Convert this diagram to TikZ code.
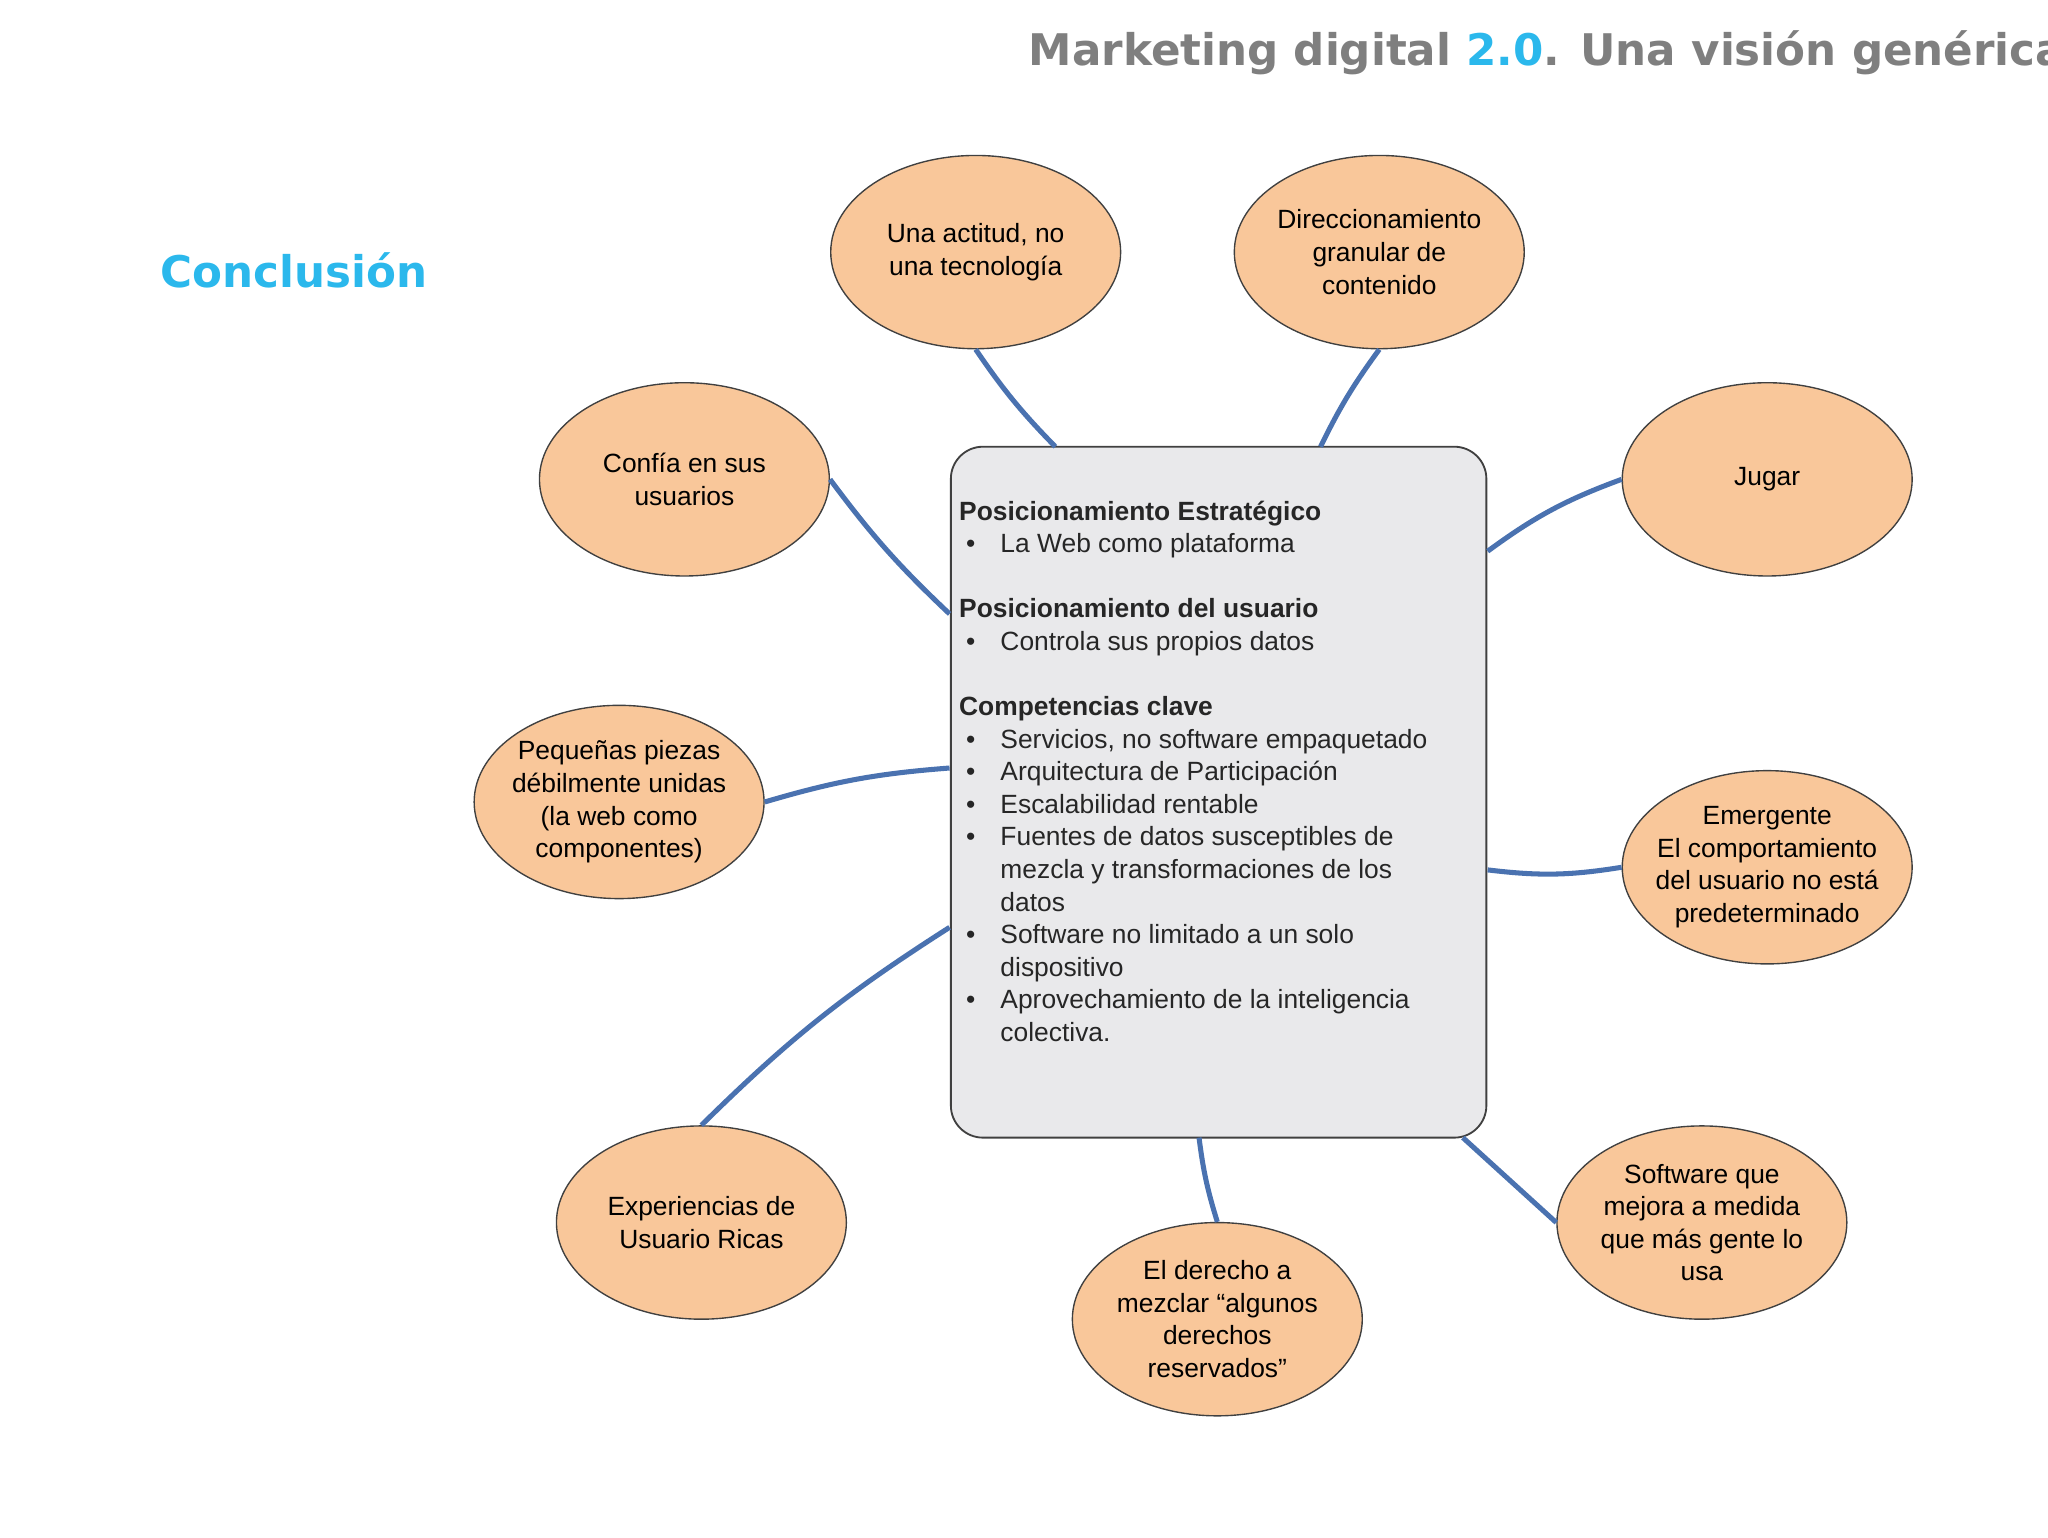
\documentclass[tikz,border=0pt]{standalone}
\usepackage{fontspec}
\setmainfont{Liberation Sans}
\newfontfamily\titlefont{DejaVu Sans}
\usetikzlibrary{shapes.geometric}
\definecolor{peach}{HTML}{F9C79A}
\definecolor{edge}{HTML}{4A72B0}
\definecolor{boxfill}{HTML}{E9E9EB}
\definecolor{cyantitle}{HTML}{2BB8EC}
\definecolor{graytitle}{HTML}{7F7F7F}
\newcommand{\bl}[1]{\hspace*{3pt}\makebox[15pt][l]{\textbullet}#1}
\newcommand{\cl}[1]{\hspace*{18pt}#1}
\begin{document}
\begin{tikzpicture}[x=0.02cm,y=-0.02cm,
  bubble/.style={ellipse,draw=black!75,line width=0.6pt,fill=peach,minimum width=4.44cm,minimum height=2.96cm,align=center,font=\fontsize{11.5}{14.2}\selectfont,inner xsep=-12pt,inner ysep=0pt},
  link/.style={edge,line width=2.2pt}]
\useasboundingbox (0,0) rectangle (1568,1177);
\node[anchor=base east,font=\titlefont\bfseries\fontsize{19}{22}\selectfont,text=graytitle] (title) at (1600,50) {Marketing digital \textcolor{cyantitle}{2.0}. Una visión genérica.};
\node[anchor=base west,font=\titlefont\bfseries\fontsize{19}{22}\selectfont,text=cyantitle] (concl) at (117,220) {Conclusión};
\draw[draw=black!75,fill=boxfill,line width=0.8pt,rounded corners=14pt] (728,342) rectangle (1138,871);
\coordinate (box) at (933,606);
\node[anchor=north west,align=left,inner sep=0pt,font=\fontsize{11.5}{14.2}\selectfont,text=black!85] (boxtext) at (734,383) {%
\textbf{Posicionamiento Estratégico}\\
\bl{La Web como plataforma}\\[14.2pt]
\textbf{Posicionamiento del usuario}\\
\bl{Controla sus propios datos}\\[14.2pt]
\textbf{Competencias clave}\\
\bl{Servicios, no software empaquetado}\\
\bl{Arquitectura de Participación}\\
\bl{Escalabilidad rentable}\\
\bl{Fuentes de datos susceptibles de}\\
\cl{mezcla y transformaciones de los}\\
\cl{datos}\\
\bl{Software no limitado a un solo}\\
\cl{dispositivo}\\
\bl{Aprovechamiento de la inteligencia}\\
\cl{colectiva.}};
\node[bubble] (a) at (747,193) {Una actitud, no\\una tecnología};
\node[bubble] (b) at (1056,193) {Direccionamiento\\granular de\\contenido};
\node[bubble] (c) at (524,367) {Confía en sus\\usuarios};
\node[bubble] (d) at (1353,367) {Jugar};
\node[bubble] (e) at (474,614) {Pequeñas piezas\\débilmente unidas\\(la web como\\componentes)};
\node[bubble] (f) at (1353,664) {Emergente\\El comportamiento\\del usuario no está\\predeterminado};
\node[bubble] (g) at (537,936) {Experiencias de\\Usuario Ricas};
\node[bubble] (h) at (1303,936) {Software que\\mejora a medida\\que más gente lo\\usa};
\node[bubble] (i) at (932,1010) {El derecho a\\mezclar “algunos\\derechos\\reservados”};
\coordinate (pa) at (808,342);
\coordinate (pb) at (1011,342);
\coordinate (pc) at (727,470);
\coordinate (pd) at (1139,422);
\coordinate (pe) at (727,588);
\coordinate (pf) at (1139,666);
\coordinate (pg) at (727,710);
\coordinate (ph) at (1120,871);
\coordinate (pi) at (918,871);
\draw[link] (a.south) to[bend right=5] (pa);
\draw[link] (b.south) to[bend right=5] (pb);
\draw[link] (c.east) to[bend right=5] (pc);
\draw[link] (d.west) to[bend right=8] (pd);
\draw[link] (e.east) to[bend left=6] (pe);
\draw[link] (f.west) to[bend left=8] (pf);
\draw[link] (g.north) to[bend left=6] (pg);
\draw[link] (h.west) -- (ph);
\draw[link] (i.north) to[bend left=5] (pi);
\end{tikzpicture}
\end{document}
